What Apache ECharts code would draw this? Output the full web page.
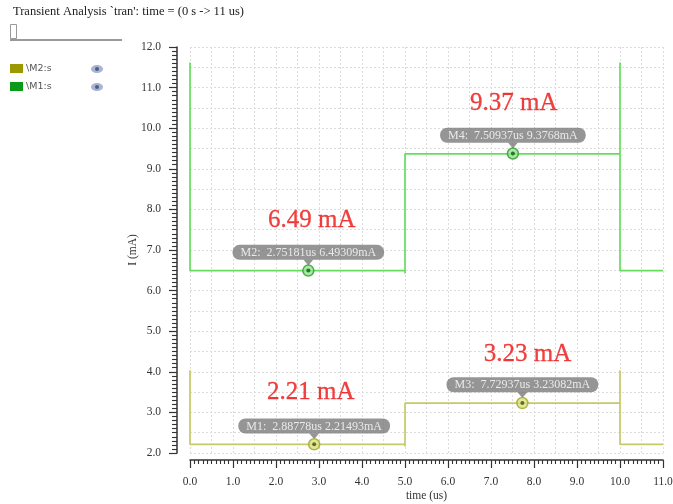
<!DOCTYPE html>
<html>
<head>
<meta charset="utf-8">
<script src="https://cdn.jsdelivr.net/npm/echarts@6/dist/echarts.min.js"></script>
<style>
html,body{margin:0;padding:0;background:#fff;}
#chart{width:673px;height:504px;}
</style>
</head>
<body>
<div id="chart"></div>
<script>
// ---- data ----
var titleText = "Transient Analysis `tran': time = (0 s -> 11 us)";
var seriesNames = ['\\M2:s', '\\M1:s'];
// M1 (green) waveform: time (us), current (mA)
var m1Time = [0, 0, 5, 5, 5, 10, 10, 10, 11];
var m1Val  = [11.62, 6.49, 6.49, 6.42, 9.37, 9.37, 11.62, 6.49, 6.49];
// M2 (olive) waveform
var m2Time = [0, 0, 5, 5, 5, 10, 10, 10, 11];
var m2Val  = [4.04, 2.21, 2.21, 2.16, 3.23, 3.23, 4.04, 2.21, 2.21];
// markers
var markerNames = ['M1', 'M2', 'M3', 'M4'];
var markerTime  = ['2.88778', '2.75181', '7.72937', '7.50937'];
var markerVal   = ['2.21493', '6.49309', '3.23082', '9.3768'];
var markerTrace = ['M2', 'M1', 'M2', 'M1'];
// red annotations
var annoText = ['6.49 mA', '9.37 mA', '2.21 mA', '3.23 mA'];
var annoX    = [2.83, 7.53, 2.81, 7.85];
var annoY    = [7.73, 10.60, 3.49, 4.43];

var xTicks = [0, 11, 1];
var yTicks = [2, 12, 1];

// ---- chart ----
var chart = echarts.init(document.getElementById('chart'), null, {renderer: 'canvas'});
var serif = 'Liberation Serif';
var colM1 = '#66de5c', colM2 = '#c6ca66';

function zip(a, b) { return a.map(function (v, i) { return [v, b[i]]; }); }

var mk = { M1: {fill: '#93e38f', ring: '#2f9a2f', dot: '#0f5a10'},
           M2: {fill: '#dce27f', ring: '#9ea42a', dot: '#4a4c10'} };

var markerSeries = [];
markerNames.forEach(function (n, i) {
  var c = mk[markerTrace[i]];
  var pt = [parseFloat(markerTime[i]), parseFloat(markerVal[i])];
  markerSeries.push({
    type: 'scatter', xAxisIndex: 0, yAxisIndex: 0, z: 5,
    symbol: 'triangle', symbolRotate: 180, symbolSize: [10, 6], symbolOffset: [0, -8],
    itemStyle: {color: '#7a7a7a'}, silent: true,
    data: [pt]
  });
  markerSeries.push({
    type: 'scatter', xAxisIndex: 0, yAxisIndex: 0, z: 6,
    symbol: 'circle', symbolSize: 11,
    itemStyle: {color: c.fill, borderColor: c.ring, borderWidth: 1.5},
    label: {
      show: true, position: 'top', distance: 4.5,
      formatter: n + ':  ' + markerTime[i] + 'us ' + markerVal[i] + 'mA',
      backgroundColor: '#7a7a7a', borderRadius: 7,
      padding: [2, 8, 1, 8], color: '#fff',
      fontFamily: serif, fontSize: 12, lineHeight: 12
    },
    data: [pt]
  });
  markerSeries.push({
    type: 'scatter', xAxisIndex: 0, yAxisIndex: 0, z: 7,
    symbol: 'circle', symbolSize: 4,
    itemStyle: {color: c.dot}, silent: true,
    data: [pt]
  });
});

var annoSeries = {
  type: 'scatter', xAxisIndex: 0, yAxisIndex: 0, z: 8,
  symbolSize: 0,
  label: {
    show: true, position: 'inside',
    formatter: function (p) { return p.data[2]; },
    color: '#ec1010', fontFamily: serif, fontSize: 25,
    textBorderColor: '#ec1010', textBorderWidth: 0.3
  },
  data: annoText.map(function (t, i) { return [annoX[i], annoY[i], t]; })
};

var axisLabelStyle = {color: '#333', fontFamily: serif, fontSize: 11.5};
var splitStyle = {show: true, lineStyle: {color: '#dcdcdc', type: [2, 2], width: 1}};

var option = {
  animation: false,
  backgroundColor: '#fff',
  grid: {left: 190, right: 10, top: 47, bottom: 51, containLabel: false, outerBoundsMode: 'none'},
  xAxis: [{
    type: 'value', min: xTicks[0], max: xTicks[1], interval: xTicks[2],
    offset: 7, position: 'bottom',
    name: 'time (us)', nameLocation: 'middle', nameGap: 30, nameMoveOverlap: false,
    nameTextStyle: {color: '#333', fontFamily: serif, fontSize: 11.5},
    axisLine: {show: true, onZero: false, lineStyle: {color: '#333', width: 1.5}},
    axisTick: {show: true, length: 8, lineStyle: {color: '#333', width: 1.2}},
    minorTick: {show: true, splitNumber: 10, length: 4, lineStyle: {color: '#333', width: 1.1}},
    axisLabel: Object.assign({margin: 16, formatter: function (v) { return v.toFixed(1); }}, axisLabelStyle),
    splitLine: {show: false}
  }, {
    type: 'value', min: xTicks[0], max: xTicks[1], interval: 0.5,
    axisLine: {show: false}, axisTick: {show: false}, axisLabel: {show: false},
    splitLine: splitStyle
  }],
  yAxis: [{
    type: 'value', min: yTicks[0], max: yTicks[1], interval: yTicks[2],
    offset: 13, position: 'left',
    name: 'I (mA)', nameLocation: 'middle', nameGap: 38, nameMoveOverlap: false,
    nameTextStyle: {color: '#333', fontFamily: serif, fontSize: 11.5},
    axisLine: {show: true, onZero: false, lineStyle: {color: '#333', width: 1.5}},
    axisTick: {show: true, length: 8, lineStyle: {color: '#333', width: 1.2}},
    minorTick: {show: true, splitNumber: 10, length: 5, lineStyle: {color: '#333', width: 1.1}},
    axisLabel: Object.assign({margin: 16, formatter: function (v) { return v.toFixed(1); }}, axisLabelStyle),
    splitLine: {show: false}
  }, {
    type: 'value', min: yTicks[0], max: yTicks[1], interval: 0.5,
    axisLine: {show: false}, axisTick: {show: false}, axisLabel: {show: false},
    splitLine: splitStyle
  }],
  series: [{
    name: seriesNames[1], type: 'line', xAxisIndex: 0, yAxisIndex: 0,
    data: zip(m1Time, m1Val), showSymbol: false, symbol: 'none',
    lineStyle: {color: colM1, width: 1.7}, z: 3
  }, {
    name: seriesNames[0], type: 'line', xAxisIndex: 0, yAxisIndex: 0,
    data: zip(m2Time, m2Val), showSymbol: false, symbol: 'none',
    lineStyle: {color: colM2, width: 1.7}, z: 3
  }].concat(markerSeries).concat([annoSeries]),
  graphic: [
    {type: 'text', left: 13, top: 5, style: {text: titleText, fill: '#222', font: '12.5px "Liberation Serif"'}},
    {type: 'rect', shape: {x: 10.5, y: 24.5, width: 6, height: 14}, style: {fill: '#fff', stroke: '#999', lineWidth: 1}},
    {type: 'line', shape: {x1: 10, y1: 40, x2: 122, y2: 40}, style: {stroke: '#777', lineWidth: 1.5}},
    {type: 'rect', shape: {x: 10, y: 64, width: 13, height: 9}, style: {fill: '#9a9a00'}},
    {type: 'text', left: 26, top: 64, style: {text: seriesNames[0], fill: '#555', font: '9.5px "DejaVu Sans"'}},
    {type: 'rect', shape: {x: 10, y: 82, width: 13, height: 9}, style: {fill: '#0a9a1a'}},
    {type: 'text', left: 26, top: 82, style: {text: seriesNames[1], fill: '#555', font: '9.5px "DejaVu Sans"'}},
    {type: 'ellipse', shape: {cx: 97, cy: 69, rx: 6, ry: 4}, style: {fill: '#a9b6d2'}},
    {type: 'circle', shape: {cx: 97, cy: 69, r: 2}, style: {fill: '#4d5d85'}},
    {type: 'ellipse', shape: {cx: 97, cy: 87, rx: 6, ry: 4}, style: {fill: '#a9b6d2'}},
    {type: 'circle', shape: {cx: 97, cy: 87, r: 2}, style: {fill: '#4d5d85'}}
  ]
};
chart.setOption(option);
</script>
</body>
</html>
